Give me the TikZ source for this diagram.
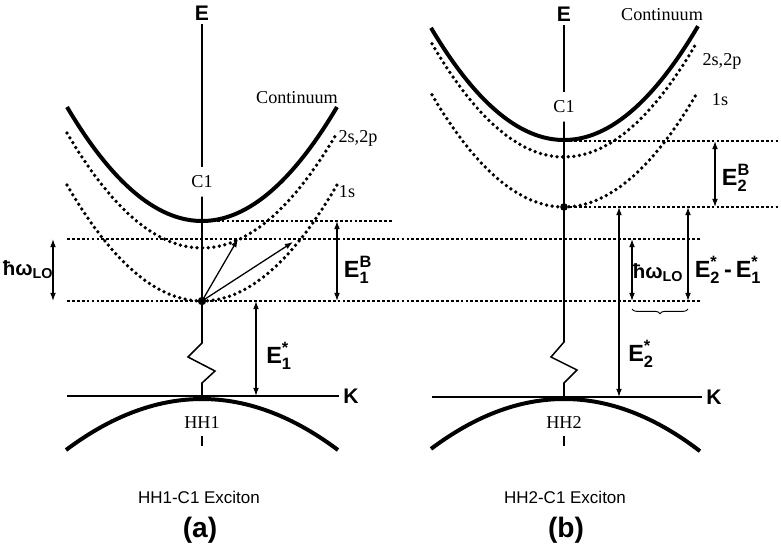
\documentclass[tikz,border=0pt]{standalone}
\usepackage{amsmath}
\usepackage{fontspec}
\setmainfont{Liberation Serif}
\setsansfont{Liberation Sans}
\usetikzlibrary{arrows.meta,decorations.pathreplacing}

\newcommand{\Elbl}[2]{$\textsf{\bfseries E}^{\textsf{\bfseries #1}}_{\textsf{\bfseries #2}}$}
\newcommand{\Estar}[1]{$\textsf{\bfseries E}^{\textsf{\bfseries *}}_{\textsf{\bfseries #1}}$}
\newcommand{\hwLO}{\textsf{\bfseries ħω}$_{\textsf{\bfseries LO}}$}

\tikzset{
  band/.style={line width=3.4pt},
  level/.style={line width=3.2pt, line cap=round, dash pattern=on 0pt off 4.8pt},
  guide/.style={line width=1.1pt, dash pattern=on 2.4pt off 1.8pt},
  axisline/.style={line width=1.3pt},
  dimarrow/.style={line width=1.1pt, {Latex[length=7pt,width=5pt]}-{Latex[length=7pt,width=5pt]}},
  kick/.style={line width=1.1pt, -{Latex[length=7pt,width=5pt]}},
  seriflbl/.style={font=\fontsize{15.5}{18}\selectfont},
  axislbl/.style={font=\fontsize{18}{20}\selectfont\sffamily\bfseries},
  elbl/.style={font=\fontsize{20}{22}\selectfont},
  hwlbl/.style={font=\fontsize{17.5}{20}\selectfont},
  caption/.style={font=\fontsize{14.5}{17}\selectfont\sffamily},
  panel/.style={font=\fontsize{24}{28}\selectfont\sffamily\bfseries}
}

\begin{document}
\begin{tikzpicture}[x=0.03cm,y=-0.03cm]
  \useasboundingbox (0,0) rectangle (781,552);

  % ---------- (a) HH1-C1 exciton ----------
  \draw[band] plot[domain=-135:135,samples=60] ({202+\x},{221-114*(\x/135)^2});
  \draw[level] plot[domain=-135:135,samples=60] ({202+\x},{248-115*(\x/135)^2});
  \draw[level] plot[domain=-135:135,samples=60] ({202+\x},{301-116*(\x/135)^2});
  \draw[band] plot[domain=-136:136,samples=60] ({202+\x},{399+51*(\x/136)^2});

  \node[axislbl] (Ea) at (202,13) {E};
  \node[seriflbl, inner ysep=7pt] (C1a) at (202,182) {C1};
  \node[seriflbl] (conta) at (297,98) {Continuum};
  \node[seriflbl] (twoa) at (358,138) {2s,2p};
  \node[seriflbl] (onea) at (347,192) {1s};
  \node[seriflbl] (HHa) at (202,422) {HH1};
  \node[axislbl] (Ka) at (351,396) {K};

  \coordinate (dota) at (202,301);
  \coordinate (za1) at (202,343);
  \coordinate (za2) at (188,357);
  \coordinate (za3) at (215,371);
  \coordinate (za4) at (202,383);
  \coordinate (ka) at (202,396);
  \draw[axisline] (Ea) -- (C1a);
  \draw[axisline] (C1a) -- (dota) -- (za1) -- (za2) -- (za3) -- (za4) -- (ka);
  \draw[axisline] (HHa.south) ++(0,4) -- ++(0,10);
  \draw[line width=1.6pt] (67,396) -- (Ka.west);

  % level guides
  \draw[guide] (202,221) -- (392,221);
  \draw[guide] (67,239) -- (700,239);
  \draw[guide] (67,301) -- (700,301);

  \fill (dota) circle (4.2);
  \draw[kick] (dota) -- (238,239);
  \draw[kick] (dota) -- (293,242);

  \coordinate (hwT) at (53,239);
  \coordinate (hwB) at (53,301);
  \draw[dimarrow] (hwT) -- (hwB);
  \node[hwlbl] (hwa) at (28,270) {\hwLO};

  \coordinate (EBaT) at (337,221);
  \coordinate (EBaB) at (337,301);
  \draw[dimarrow] (EBaT) -- (EBaB);
  \node[elbl] (EBa) at (358,270) {\Elbl{B}{1}};

  \coordinate (ESaT) at (256,301);
  \coordinate (ESaB) at (256,396);
  \draw[dimarrow] (ESaT) -- (ESaB);
  \node[elbl] (ESa) at (279,356) {\Estar{1}};

  \node[caption] (capa) at (199,497) {HH1-C1 Exciton};
  \node[panel] (pa) at (200,530) {(a)};

  % ---------- (b) HH2-C1 exciton ----------
  \draw[band] plot[domain=-133:134,samples=60] ({564+\x},{140-113*(\x/133.5)^2});
  \draw[level] plot[domain=-132:133,samples=60] ({564+\x},{157-114*(\x/132.5)^2});
  \draw[level] plot[domain=-132:133,samples=60] ({564+\x},{207-113*(\x/132.5)^2});
  \draw[band] plot[domain=-133:136,samples=60] ({564+\x},{399+51*(\x/134.5)^2});

  \node[axislbl] (Eb) at (564,14) {E};
  \node[seriflbl, inner ysep=7pt] (C1b) at (564,107) {C1};
  \node[seriflbl] (contb) at (662,15) {Continuum};
  \node[seriflbl] (twob) at (722,61) {2s,2p};
  \node[seriflbl] (oneb) at (720,100) {1s};
  \node[seriflbl] (HHb) at (564,422) {HH2};
  \node[axislbl] (Kb) at (714,397) {K};

  \coordinate (dotb) at (564,207);
  \coordinate (zb1) at (564,342);
  \coordinate (zb2) at (551,357);
  \coordinate (zb3) at (577,370);
  \coordinate (zb4) at (564,383);
  \coordinate (kb) at (564,397);
  \draw[axisline] (Eb) -- (C1b);
  \draw[axisline] (C1b) -- (dotb) -- (zb1) -- (zb2) -- (zb3) -- (zb4) -- (kb);
  \draw[axisline] (HHb.south) ++(0,4) -- ++(0,10);
  \draw[line width=1.6pt] (432,397) -- (Kb.west);

  % level guides
  \draw[guide] (564,141) -- (781,141);
  \draw[guide] (564,207) -- (781,207);

  \fill (dotb) circle (3.8);

  \coordinate (EBbT) at (715,141);
  \coordinate (EBbB) at (715,207);
  \draw[dimarrow] (EBbT) -- (EBbB);
  \node[elbl] (EBb) at (736,178) {\Elbl{B}{2}};

  \coordinate (ESbT) at (619,207);
  \coordinate (ESbB) at (619,397);
  \draw[dimarrow] (ESbT) -- (ESbB);
  \node[elbl] (ESb) at (641,354) {\Estar{2}};

  \coordinate (hwbT) at (632,239);
  \coordinate (hwbB) at (632,301);
  \draw[dimarrow] (hwbT) -- (hwbB);
  \node[hwlbl] (hwb) at (658,273) {\hwLO};

  \coordinate (dEbT) at (688,207);
  \coordinate (dEbB) at (688,301);
  \draw[dimarrow] (dEbT) -- (dEbB);
  \node[elbl, inner xsep=0pt] (dEb) at (728,270) {\Estar{2}\,\textsf{\bfseries -}\,\Estar{1}};

  \draw[decorate, decoration={brace, mirror, amplitude=4pt}, line width=0.8pt]
    (632,309) -- (688,309);

  \node[caption] (capb) at (565,497) {HH2-C1 Exciton};
  \node[panel] (pb) at (566,530) {(b)};
\end{tikzpicture}
\end{document}
